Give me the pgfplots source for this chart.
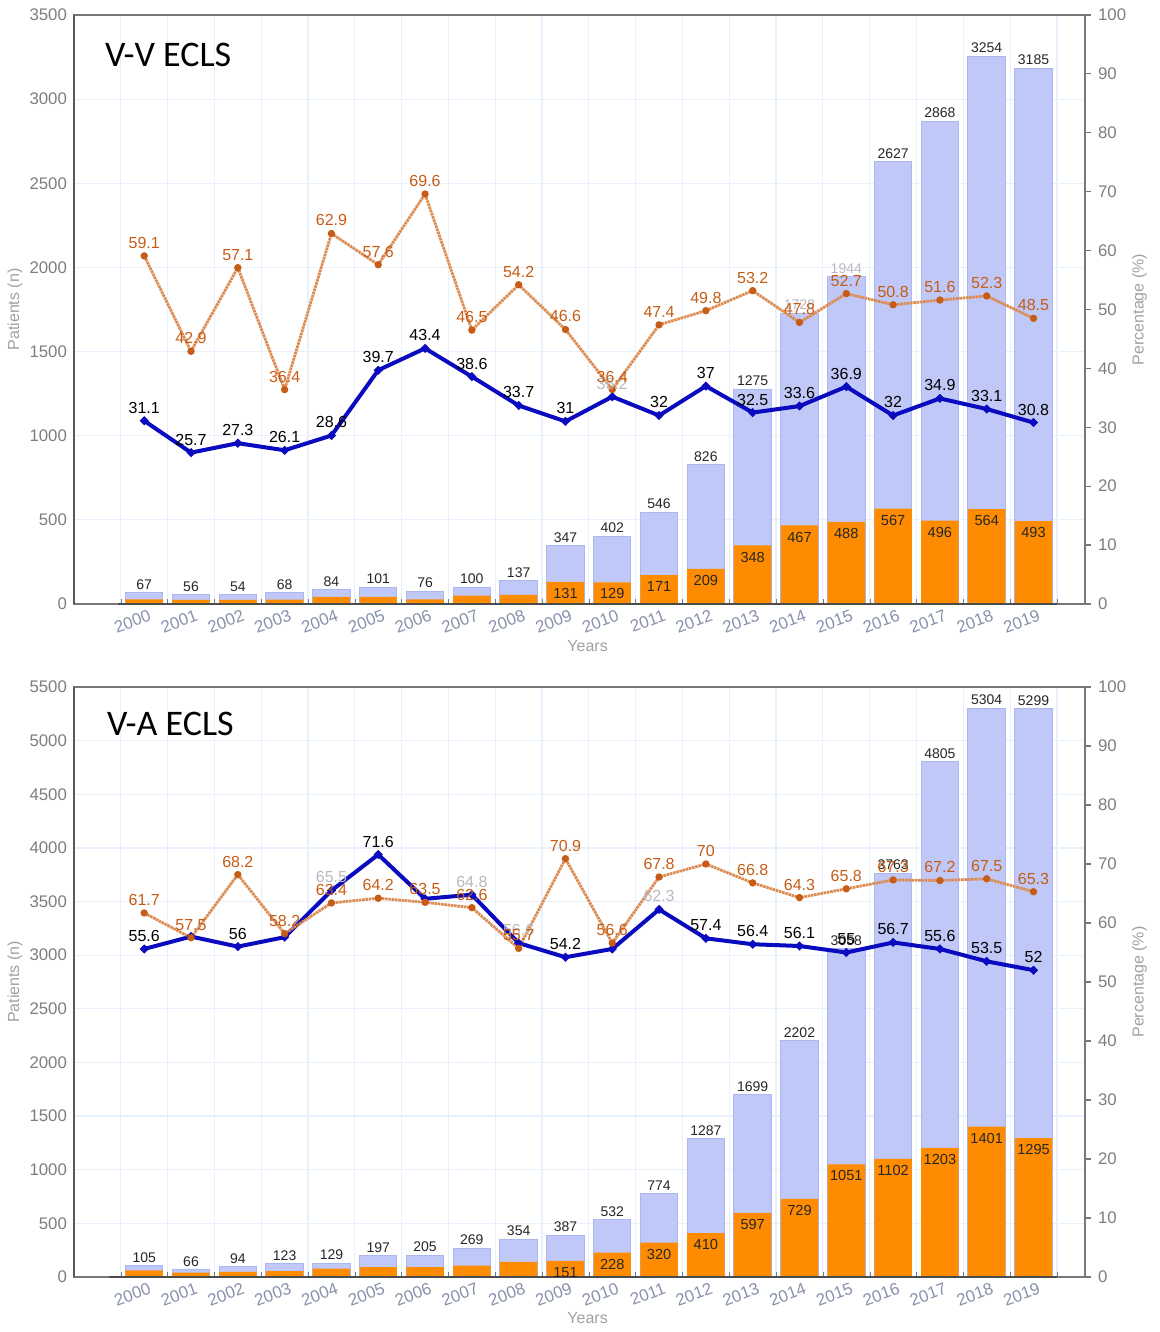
\documentclass[border=0pt]{standalone}
\usepackage{pgfplots}
\pgfplotsset{compat=1.18}
\usepackage{pgfplotstable}
\usepackage{fontspec}
\setmainfont{Liberation Sans}
\newfontfamily\titlefont{Carlito}

\definecolor{barblue}{RGB}{192,200,248}
\definecolor{baredge}{RGB}{172,182,240}
\definecolor{barorange}{RGB}{255,140,0}
\definecolor{lineblue}{RGB}{10,10,190}
\definecolor{lineorange}{RGB}{220,140,82}
\definecolor{txtorange}{RGB}{198,92,22}
\definecolor{tickgray}{RGB}{125,125,125}
\definecolor{labgray}{RGB}{160,160,160}
\definecolor{yeargray}{RGB}{135,145,172}
\definecolor{gridblue}{RGB}{232,240,252}
\definecolor{framegray}{RGB}{120,120,120}
\definecolor{fadegray}{RGB}{185,185,192}

\pgfplotstableread{
x total surv pb po
0 67 28 31.1 59.1
1 56 24 25.7 42.9
2 54 24 27.3 57.1
3 68 26 26.1 36.4
4 84 42 28.6 62.9
5 101 42 39.7 57.6
6 76 28 43.4 69.6
7 100 50 38.6 46.5
8 137 54 33.7 54.2
9 347 131 31 46.6
10 402 129 35.2 36.4
11 546 171 32 47.4
12 826 209 37 49.8
13 1275 348 32.5 53.2
14 1728 467 33.6 47.8
15 1944 488 36.9 52.7
16 2627 567 32 50.8
17 2868 496 34.9 51.6
18 3254 564 33.1 52.3
19 3185 493 30.8 48.5
}\vv

\pgfplotstableread{
x total surv pb po
0 105 62 55.6 61.7
1 66 40 57.7 57.5
2 94 47 56 68.2
3 123 56 57.6 58.2
4 129 78 65.5 63.4
5 197 93 71.6 64.2
6 205 93 64.1 63.5
7 269 105 64.8 62.6
8 354 140 56.6 55.7
9 387 151 54.2 70.9
10 532 228 55.6 56.6
11 774 320 62.3 67.8
12 1287 410 57.4 70
13 1699 597 56.4 66.8
14 2202 729 56.1 64.3
15 3058 1051 55 65.8
16 3763 1102 56.7 67.3
17 4805 1203 55.6 67.2
18 5304 1401 53.5 67.5
19 5299 1295 52 65.3
}\va

\pgfplotsset{
  /pgf/number format/1000 sep={},
  common/.style={
    scale only axis, width=505.5pt,
    xmin=-1.5, xmax=20.1, clip=false,
    /pgf/number format/assume math mode=true,
    tick label style={font=\fontsize{8.4}{10}\selectfont},
    label style={font=\fontsize{8}{10}\selectfont, text=labgray},
    axis line style={draw=framegray, line width=0.6pt},
  },
  leftax/.style={common,
    xtick={0,...,19},
    xticklabels={2000,2001,2002,2003,2004,2005,2006,2007,2008,2009,2010,2011,2012,2013,2014,2015,2016,2017,2018,2019},
    x tick label style={rotate=20, anchor=north east, text=yeargray, inner sep=1pt, yshift=-2pt, xshift=2pt},
    major x tick style={draw=none},
    minor xtick={-0.5,0.5,...,19.5},
    minor x tick style={draw=framegray},
    minor tick length=2.5pt,
    xminorgrids, ymajorgrids,
    grid style={draw=gridblue, line width=0.6pt},
    minor grid style={draw=gridblue, line width=0.6pt},
    ytick pos=left, xtick pos=bottom,
    y tick style={draw=none},
    y tick label style={text=tickgray},
    ylabel={Patients (n)}, xlabel={Years},
    ylabel style={at={(axis description cs:-0.0584,0.5)}, anchor=center},
  },
  rightax/.style={common,
    axis x line=none, axis y line*=right,
    ymin=0, ymax=100, ytick={0,10,...,100},
    y tick label style={text=tickgray},
    y tick style={draw=framegray, line width=0.6pt},
    tick align=outside, major tick length=3pt,
    ylabel={Percentage (\%)},
    ylabel style={at={(axis description cs:1.054,0.5)}, anchor=center},
  },
  totbar/.style={ybar, bar width=0.8, bar shift=0pt, fill=barblue, draw=baredge, line width=0.5pt},
  survbar/.style={ybar, bar width=0.8, bar shift=0pt, fill=barorange, draw=none},
  barlab/.style={draw=none, mark=none, forget plot, nodes near coords, point meta=y,
    nodes near coords style={font=\fontsize{7}{8}\selectfont, text=#1, anchor=south, inner sep=1pt, yshift=0.5pt}},
  survlab/.style={draw=none, mark=none, forget plot, nodes near coords, point meta=y,
    nodes near coords style={font=\fontsize{7.3}{8}\selectfont, text=black!85, anchor=north, inner sep=1pt, yshift=-2pt}},
  linelab/.style={draw=none, mark=none, forget plot, nodes near coords, point meta=y,
    nodes near coords style={font=\fontsize{8}{9}\selectfont, text=#1, anchor=south, inner sep=1pt, yshift=2.5pt}},
  blueline/.style={lineblue, line width=2pt, mark=*, mark size=0.9pt, mark options={fill=lineblue, draw=lineblue}},
  orangeline/.style={lineorange, line width=1.4pt, dash pattern=on 1.3pt off 0.35pt, mark=*, mark size=1.1pt, mark options={solid, fill=txtorange, draw=txtorange}},
}

\begin{document}
\begin{tikzpicture}
\path[use as bounding box] (-37pt,-364pt) rectangle (543pt,302pt);

% ================= V-V ECLS =================
\begin{axis}[leftax, height=294.5pt, at={(0pt,0pt)}, anchor=south west,
  ymin=0, ymax=3500, ytick={0,500,...,3500},
  xlabel style={at={(axis description cs:0.508,-0.0713)}, anchor=center}]
\addplot[totbar] table[x=x,y=total]{\vv};
\addplot[survbar] table[x=x,y=surv]{\vv};
\addplot[black!70, line width=1.2pt, forget plot] coordinates {(-0.55,0) (19.5,0)};
\addplot[barlab=black!85] coordinates {(0,67) (1,56) (2,54) (3,68) (4,84) (5,101) (6,76) (7,100) (8,137) (9,347) (10,402) (11,546) (12,826) (13,1275) (16,2627) (17,2868) (18,3254) (19,3185)};
\addplot[barlab=fadegray] coordinates {(14,1728) (15,1944)};
\addplot[survlab] coordinates {(9,131) (10,129) (11,171) (12,209) (13,348) (14,467) (15,488) (16,567) (17,496) (18,564) (19,493)};
\draw[black!65, line width=1.1pt] (rel axis cs:0,0) -- (rel axis cs:0,1);
\node[anchor=base west, font=\titlefont\fontsize{18}{20}\selectfont, text=black] at (rel axis cs:0.0237,0.913) {V-V ECLS};
\end{axis}

\begin{axis}[rightax, height=294.5pt, at={(0pt,0pt)}, anchor=south west]
\addplot[blueline] table[x=x,y=pb]{\vv};
\addplot[orangeline] table[x=x,y=po]{\vv};
\addplot[linelab=black] coordinates {(0,31.1) (1,25.7) (2,27.3) (3,26.1) (4,28.6) (5,39.7) (6,43.4) (7,38.6) (8,33.7) (9,31) (11,32) (12,37) (13,32.5) (14,33.6) (15,36.9) (16,32) (17,34.9) (18,33.1) (19,30.8)};
\addplot[linelab=fadegray] coordinates {(10,35.2)};
\addplot[linelab=txtorange] table[x=x,y=po]{\vv};
\end{axis}

% ================= V-A ECLS =================
\begin{axis}[leftax, height=295pt, at={(0pt,-336.5pt)}, anchor=south west,
  ymin=0, ymax=5500, ytick={0,500,...,5500},
  xlabel style={at={(axis description cs:0.508,-0.0695)}, anchor=center}]
\addplot[totbar] table[x=x,y=total]{\va};
\addplot[survbar] table[x=x,y=surv]{\va};
\addplot[black!70, line width=1.2pt, forget plot] coordinates {(-0.75,0) (19.5,0)};
\addplot[barlab=black!85] table[x=x,y=total]{\va};
\addplot[survlab] coordinates {(9,151) (10,228) (11,320) (12,410) (13,597) (14,729) (15,1051) (16,1102) (17,1203) (18,1401) (19,1295)};
\draw[black!65, line width=1.1pt] (rel axis cs:0,0) -- (rel axis cs:0,1);
\node[anchor=base west, font=\titlefont\fontsize{18}{20}\selectfont, text=black] at (rel axis cs:0.0257,0.9186) {V-A ECLS};
\end{axis}

\begin{axis}[rightax, height=295pt, at={(0pt,-336.5pt)}, anchor=south west]
\addplot[blueline] table[x=x,y=pb]{\va};
\addplot[orangeline] table[x=x,y=po]{\va};
\addplot[linelab=black] coordinates {(0,55.6) (2,56) (5,71.6) (9,54.2) (12,57.4) (13,56.4) (14,56.1) (15,55) (16,56.7) (17,55.6) (18,53.5) (19,52)};
\addplot[linelab=fadegray] coordinates {(4,65.5) (7,64.8) (8,56.6) (11,62.3)};
\addplot[linelab=txtorange] table[x=x,y=po]{\va};
\end{axis}
\end{tikzpicture}
\end{document}
